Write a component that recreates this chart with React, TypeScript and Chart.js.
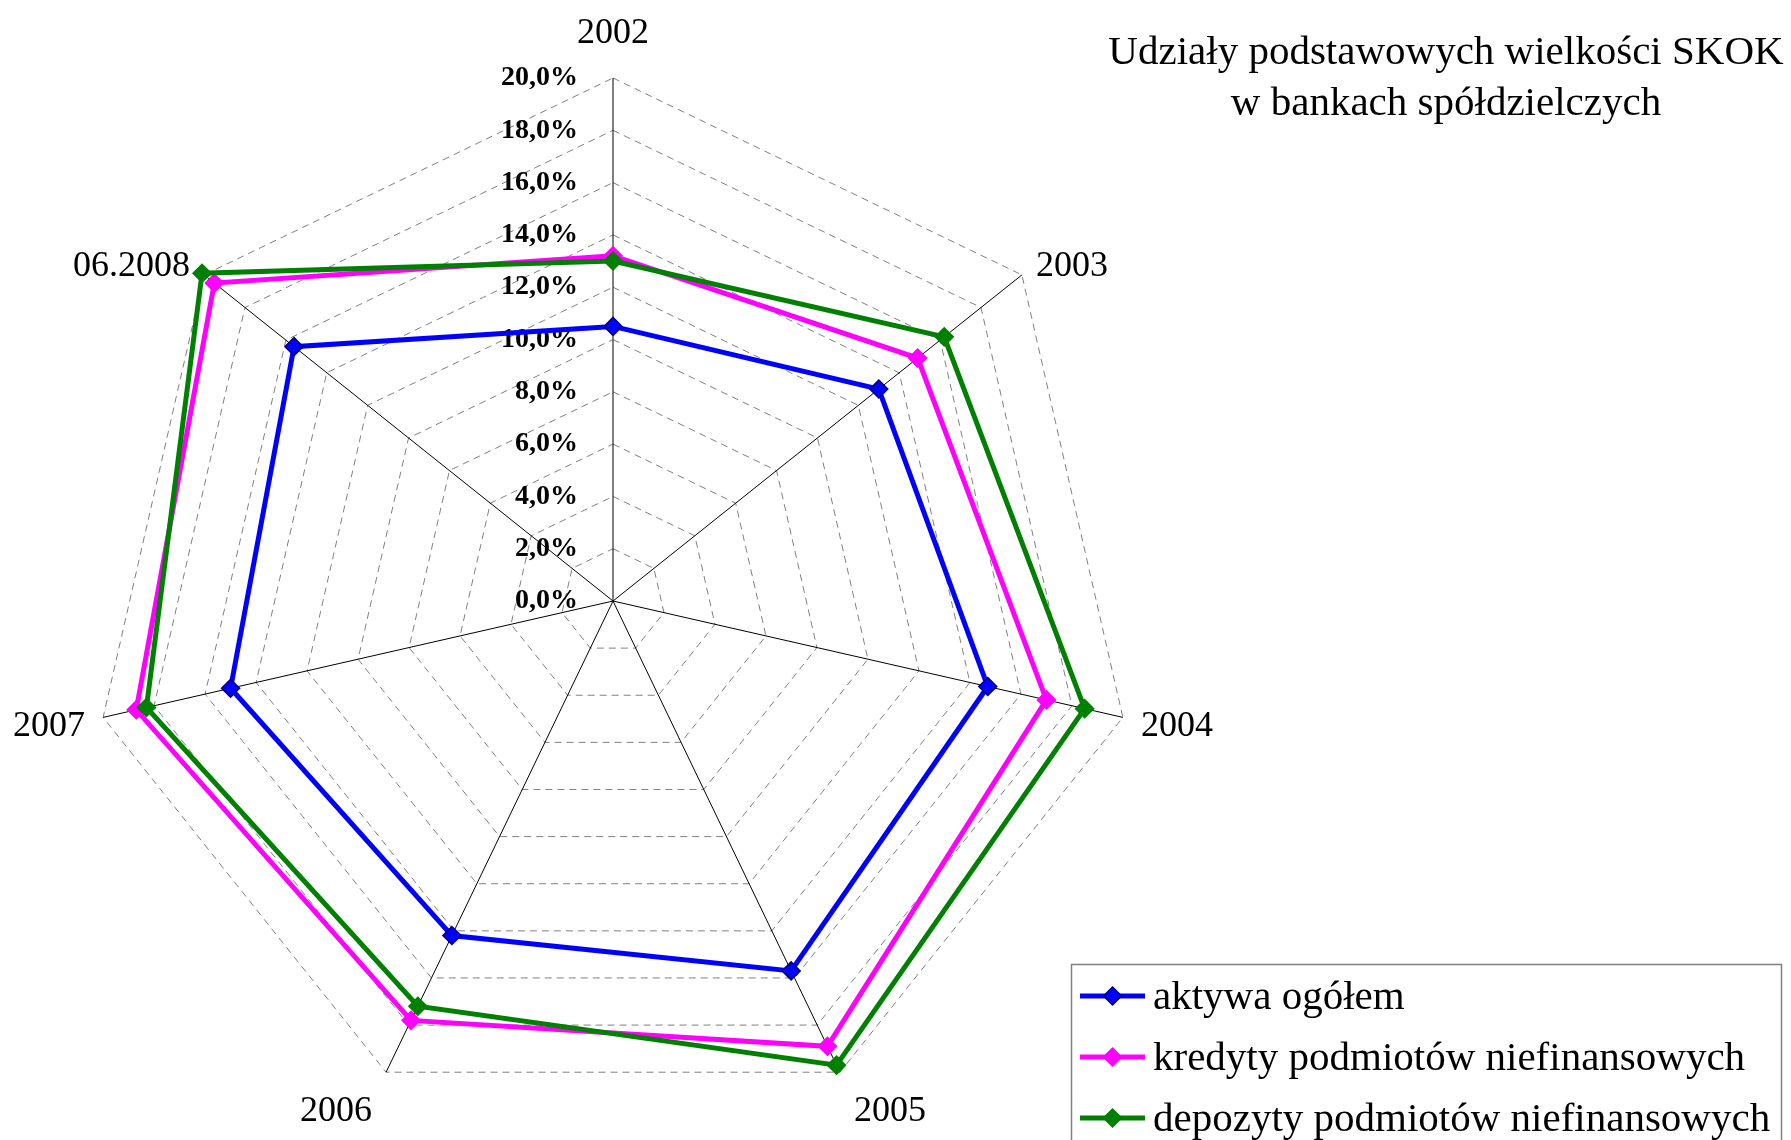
import React, { useEffect, useRef } from "react";
import { Chart, registerables } from "chart.js";

Chart.register(...registerables);

// ---- data ----
const categories = ["2002", "2003", "2004", "2005", "2006", "2007", "06.2008"];
const aktywa = [10.5, 13.0, 14.7, 15.7, 14.2, 15.0, 15.6];
const kredyty = [13.2, 14.9, 17.0, 18.9, 17.8, 18.7, 19.5];
const depozyty = [13.0, 16.2, 18.5, 19.7, 17.2, 18.3, 20.1];
const seriesNames = [
  "aktywa ogółem",
  "kredyty podmiotów niefinansowych",
  "depozyty podmiotów niefinansowych",
];
const titleLines = ["Udziały podstawowych wielkości SKOK", "w bankach spółdzielczych"];
const axisMin = 0;
const axisMax = 20;
const axisStep = 2;

const SERIF = '"Liberation Serif", "Times New Roman", serif';

const fmtTick = (v: number) => v.toFixed(1).replace(".", ",") + "%";

function diamond(ctx: CanvasRenderingContext2D, x: number, y: number, r: number) {
  ctx.beginPath();
  ctx.moveTo(x, y - r);
  ctx.lineTo(x + r, y);
  ctx.lineTo(x, y + r);
  ctx.lineTo(x - r, y);
  ctx.closePath();
}

const overlayPlugin = {
  id: "overlay",
  beforeDatasetsDraw(chart: any) {
    const scale = chart.scales.r;
    const ctx: CanvasRenderingContext2D = chart.ctx;
    ctx.save();
    ctx.font = `bold 28px ${SERIF}`;
    ctx.fillStyle = "#000";
    ctx.textAlign = "right";
    ctx.textBaseline = "middle";
    scale.ticks.forEach((t: any) => {
      const d = scale.getDistanceFromCenterForValue(t.value);
      ctx.fillText(fmtTick(t.value), scale.xCenter - 35, scale.yCenter - d);
    });
    ctx.restore();
  },
  afterDraw(chart: any) {
    const scale = chart.scales.r;
    const ctx: CanvasRenderingContext2D = chart.ctx;
    ctx.save();
    // point labels
    ctx.font = `36px ${SERIF}`;
    ctx.fillStyle = "#000";
    ctx.textBaseline = "alphabetic";
    chart.data.labels.forEach((lab: string, i: number) => {
      const p = scale.getPointPosition(i, scale.drawingArea);
      const ux = (p.x - scale.xCenter) / scale.drawingArea;
      const uy = (p.y - scale.yCenter) / scale.drawingArea;
      let align: CanvasTextAlign = "center";
      let x = p.x;
      if (Math.abs(ux) > 0.05) {
        align = ux > 0 ? "left" : "right";
        const off = Math.abs(ux) > 0.9 ? 18 : 14;
        x = p.x + (ux > 0 ? off : -off);
      }
      const y = p.y + (uy < -0.9 ? -35 : uy < 0 ? 1 : uy < 0.5 ? 19 : 49);
      ctx.textAlign = align;
      ctx.fillText(lab, x, y);
    });

    // title
    ctx.font = `41px ${SERIF}`;
    ctx.textAlign = "center";
    ctx.fillText(titleLines[0], 1446, 64);
    ctx.fillText(titleLines[1], 1446, 115);

    // legend
    ctx.strokeStyle = "#808080";
    ctx.lineWidth = 1.5;
    ctx.strokeRect(1071.5, 964.5, 710, 200);
    ctx.font = `41px ${SERIF}`;
    ctx.textAlign = "left";
    chart.data.datasets.forEach((ds: any, i: number) => {
      const y = 996 + i * 61;
      ctx.strokeStyle = ds.borderColor;
      ctx.lineWidth = 5;
      ctx.beginPath();
      ctx.moveTo(1080, y);
      ctx.lineTo(1145, y);
      ctx.stroke();
      diamond(ctx, 1112.5, y, 9);
      ctx.fillStyle = ds.pointBackgroundColor;
      ctx.fill();
      ctx.lineWidth = 1.5;
      ctx.strokeStyle = ds.pointBorderColor;
      ctx.stroke();
      ctx.fillStyle = "#000";
      ctx.fillText(ds.label, 1153, y + 13);
    });
    ctx.restore();
  },
};

export default function App() {
  const ref = useRef<HTMLCanvasElement | null>(null);
  useEffect(() => {
    if (!ref.current) return;
    const mk = (label: string, data: number[], color: string, border: string, order: number) => ({
      label,
      data,
      borderColor: color,
      backgroundColor: "transparent",
      borderWidth: 5,
      fill: false,
      pointStyle: "rectRot",
      pointRadius: 9,
      pointBackgroundColor: color,
      pointBorderColor: border,
      pointBorderWidth: 1.5,
      order,
    });
    const chart = new Chart(ref.current, {
      type: "radar",
      data: {
        labels: categories,
        datasets: [
          mk(seriesNames[0], aktywa, "#0000FF", "#000080", 3),
          mk(seriesNames[1], kredyty, "#FF00FF", "#FF00FF", 2),
          mk(seriesNames[2], depozyty, "#008000", "#008000", 1),
        ],
      },
      options: {
        responsive: false,
        animation: false,
        devicePixelRatio: 1,
        layout: { padding: { left: 90, top: 78, right: 655, bottom: 16 } },
        plugins: {
          legend: { display: false },
          title: { display: false },
          tooltip: { enabled: false },
        },
        elements: { line: { tension: 0 } },
        scales: {
          r: {
            min: axisMin,
            max: axisMax,
            beginAtZero: true,
            ticks: { display: false, stepSize: axisStep },
            pointLabels: { display: false },
            angleLines: { display: true, color: "#000000", lineWidth: 1, borderDash: [] },
            grid: { color: "#808080", lineWidth: 1, borderDash: [7, 5] },
            border: { dash: [7, 5] },
          },
        },
      },
      plugins: [overlayPlugin],
    } as any);
    return () => chart.destroy();
  }, []);
  return (
    <div style={{ position: "absolute", left: 0, top: 0, width: 1791, height: 1140, background: "#fff" }}>
      <canvas ref={ref} width={1791} height={1140} />
    </div>
  );
}
